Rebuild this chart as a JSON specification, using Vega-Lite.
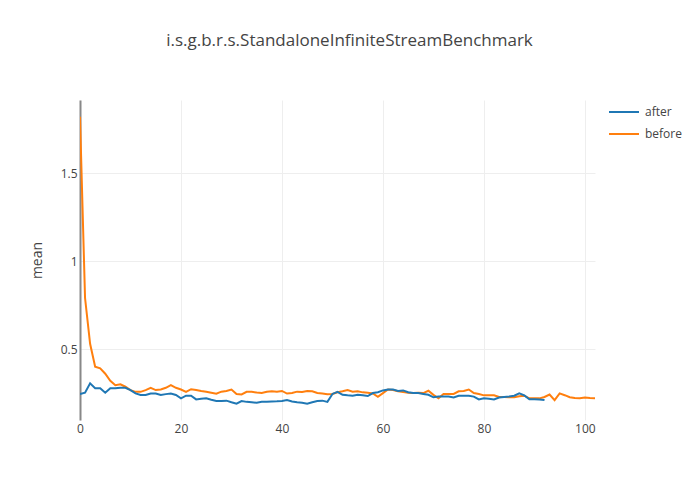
{
  "$schema": "https://vega.github.io/schema/vega-lite/v6.json",
  "width": 515,
  "height": 320,
  "autosize": {"type": "none"},
  "padding": {"left": 80, "top": 100, "right": 105, "bottom": 80},
  "background": "white",
  "title": {
    "text": "i.s.g.b.r.s.StandaloneInfiniteStreamBenchmark",
    "font": "Open Sans",
    "fontSize": 17,
    "fontWeight": "normal",
    "color": "#444",
    "anchor": "middle",
    "frame": "group",
    "dx": 12,
    "offset": 46
  },
  "config": {
    "view": {"stroke": null},
    "font": "Open Sans"
  },
  "data": {
    "values": [
      {"i":0,"s":"before","v":1.82},{"i":1,"s":"before","v":0.79},{"i":2,"s":"before","v":0.53},{"i":3,"s":"before","v":0.40},{"i":4,"s":"before","v":0.39},{"i":5,"s":"before","v":0.36},{"i":6,"s":"before","v":0.32},{"i":7,"s":"before","v":0.295},{"i":8,"s":"before","v":0.30},{"i":9,"s":"before","v":0.286},
      {"i":10,"s":"before","v":0.267},{"i":11,"s":"before","v":0.257},{"i":12,"s":"before","v":0.257},{"i":13,"s":"before","v":0.267},{"i":14,"s":"before","v":0.28},{"i":15,"s":"before","v":0.267},{"i":16,"s":"before","v":0.27},{"i":17,"s":"before","v":0.28},{"i":18,"s":"before","v":0.295},{"i":19,"s":"before","v":0.28},
      {"i":20,"s":"before","v":0.27},{"i":21,"s":"before","v":0.257},{"i":22,"s":"before","v":0.272},{"i":23,"s":"before","v":0.268},{"i":24,"s":"before","v":0.262},{"i":25,"s":"before","v":0.258},{"i":26,"s":"before","v":0.252},{"i":27,"s":"before","v":0.246},{"i":28,"s":"before","v":0.258},{"i":29,"s":"before","v":0.262},
      {"i":30,"s":"before","v":0.27},{"i":31,"s":"before","v":0.245},{"i":32,"s":"before","v":0.242},{"i":33,"s":"before","v":0.257},{"i":34,"s":"before","v":0.257},{"i":35,"s":"before","v":0.253},{"i":36,"s":"before","v":0.25},{"i":37,"s":"before","v":0.257},{"i":38,"s":"before","v":0.26},{"i":39,"s":"before","v":0.258},
      {"i":40,"s":"before","v":0.262},{"i":41,"s":"before","v":0.247},{"i":42,"s":"before","v":0.25},{"i":43,"s":"before","v":0.258},{"i":44,"s":"before","v":0.256},{"i":45,"s":"before","v":0.262},{"i":46,"s":"before","v":0.26},{"i":47,"s":"before","v":0.25},{"i":48,"s":"before","v":0.248},{"i":49,"s":"before","v":0.244},
      {"i":50,"s":"before","v":0.245},{"i":51,"s":"before","v":0.255},{"i":52,"s":"before","v":0.26},{"i":53,"s":"before","v":0.267},{"i":54,"s":"before","v":0.258},{"i":55,"s":"before","v":0.26},{"i":56,"s":"before","v":0.254},{"i":57,"s":"before","v":0.252},{"i":58,"s":"before","v":0.248},{"i":59,"s":"before","v":0.229},
      {"i":60,"s":"before","v":0.25},{"i":61,"s":"before","v":0.27},{"i":62,"s":"before","v":0.267},{"i":63,"s":"before","v":0.26},{"i":64,"s":"before","v":0.256},{"i":65,"s":"before","v":0.252},{"i":66,"s":"before","v":0.25},{"i":67,"s":"before","v":0.252},{"i":68,"s":"before","v":0.25},{"i":69,"s":"before","v":0.263},
      {"i":70,"s":"before","v":0.24},{"i":71,"s":"before","v":0.22},{"i":72,"s":"before","v":0.245},{"i":73,"s":"before","v":0.245},{"i":74,"s":"before","v":0.245},{"i":75,"s":"before","v":0.26},{"i":76,"s":"before","v":0.262},{"i":77,"s":"before","v":0.27},{"i":78,"s":"before","v":0.25},{"i":79,"s":"before","v":0.245},
      {"i":80,"s":"before","v":0.237},{"i":81,"s":"before","v":0.238},{"i":82,"s":"before","v":0.238},{"i":83,"s":"before","v":0.228},{"i":84,"s":"before","v":0.228},{"i":85,"s":"before","v":0.226},{"i":86,"s":"before","v":0.226},{"i":87,"s":"before","v":0.232},{"i":88,"s":"before","v":0.235},{"i":89,"s":"before","v":0.22},
      {"i":90,"s":"before","v":0.22},{"i":91,"s":"before","v":0.22},{"i":92,"s":"before","v":0.228},{"i":93,"s":"before","v":0.242},{"i":94,"s":"before","v":0.21},{"i":95,"s":"before","v":0.248},{"i":96,"s":"before","v":0.238},{"i":97,"s":"before","v":0.226},{"i":98,"s":"before","v":0.222},{"i":99,"s":"before","v":0.22},
      {"i":100,"s":"before","v":0.225},{"i":101,"s":"before","v":0.222},{"i":102,"s":"before","v":0.22},
      {"i":0,"s":"after","v":0.244},{"i":1,"s":"after","v":0.252},{"i":2,"s":"after","v":0.305},{"i":3,"s":"after","v":0.277},{"i":4,"s":"after","v":0.277},{"i":5,"s":"after","v":0.252},{"i":6,"s":"after","v":0.277},{"i":7,"s":"after","v":0.277},{"i":8,"s":"after","v":0.28},{"i":9,"s":"after","v":0.28},
      {"i":10,"s":"after","v":0.267},{"i":11,"s":"after","v":0.248},{"i":12,"s":"after","v":0.239},{"i":13,"s":"after","v":0.239},{"i":14,"s":"after","v":0.248},{"i":15,"s":"after","v":0.248},{"i":16,"s":"after","v":0.239},{"i":17,"s":"after","v":0.244},{"i":18,"s":"after","v":0.248},{"i":19,"s":"after","v":0.239},
      {"i":20,"s":"after","v":0.22},{"i":21,"s":"after","v":0.235},{"i":22,"s":"after","v":0.235},{"i":23,"s":"after","v":0.214},{"i":24,"s":"after","v":0.218},{"i":25,"s":"after","v":0.22},{"i":26,"s":"after","v":0.212},{"i":27,"s":"after","v":0.205},{"i":28,"s":"after","v":0.205},{"i":29,"s":"after","v":0.207},
      {"i":30,"s":"after","v":0.198},{"i":31,"s":"after","v":0.19},{"i":32,"s":"after","v":0.205},{"i":33,"s":"after","v":0.2},{"i":34,"s":"after","v":0.198},{"i":35,"s":"after","v":0.195},{"i":36,"s":"after","v":0.2},{"i":37,"s":"after","v":0.2},{"i":38,"s":"after","v":0.202},{"i":39,"s":"after","v":0.203},
      {"i":40,"s":"after","v":0.205},{"i":41,"s":"after","v":0.21},{"i":42,"s":"after","v":0.202},{"i":43,"s":"after","v":0.198},{"i":44,"s":"after","v":0.195},{"i":45,"s":"after","v":0.19},{"i":46,"s":"after","v":0.198},{"i":47,"s":"after","v":0.205},{"i":48,"s":"after","v":0.207},{"i":49,"s":"after","v":0.2},
      {"i":50,"s":"after","v":0.245},{"i":51,"s":"after","v":0.257},{"i":52,"s":"after","v":0.24},{"i":53,"s":"after","v":0.237},{"i":54,"s":"after","v":0.235},{"i":55,"s":"after","v":0.24},{"i":56,"s":"after","v":0.237},{"i":57,"s":"after","v":0.233},{"i":58,"s":"after","v":0.25},{"i":59,"s":"after","v":0.255},
      {"i":60,"s":"after","v":0.265},{"i":61,"s":"after","v":0.27},{"i":62,"s":"after","v":0.27},{"i":63,"s":"after","v":0.262},{"i":64,"s":"after","v":0.265},{"i":65,"s":"after","v":0.255},{"i":66,"s":"after","v":0.25},{"i":67,"s":"after","v":0.25},{"i":68,"s":"after","v":0.245},{"i":69,"s":"after","v":0.24},
      {"i":70,"s":"after","v":0.226},{"i":71,"s":"after","v":0.23},{"i":72,"s":"after","v":0.23},{"i":73,"s":"after","v":0.23},{"i":74,"s":"after","v":0.225},{"i":75,"s":"after","v":0.235},{"i":76,"s":"after","v":0.235},{"i":77,"s":"after","v":0.235},{"i":78,"s":"after","v":0.23},{"i":79,"s":"after","v":0.214},
      {"i":80,"s":"after","v":0.22},{"i":81,"s":"after","v":0.218},{"i":82,"s":"after","v":0.214},{"i":83,"s":"after","v":0.225},{"i":84,"s":"after","v":0.228},{"i":85,"s":"after","v":0.23},{"i":86,"s":"after","v":0.235},{"i":87,"s":"after","v":0.248},{"i":88,"s":"after","v":0.237},{"i":89,"s":"after","v":0.215},
      {"i":90,"s":"after","v":0.215},{"i":91,"s":"after","v":0.214},{"i":92,"s":"after","v":0.21}
    ]
  },
  "mark": {"type": "line", "strokeWidth": 2, "clip": true},
  "encoding": {
    "x": {
      "field": "i",
      "type": "quantitative",
      "scale": {"domain": [0, 102], "nice": false, "zero": false},
      "axis": {
        "title": null,
        "values": [0, 20, 40, 60, 80, 100],
        "grid": true,
        "gridColor": "#eeeeee",
        "gridWidth": 1,
        "domain": false,
        "ticks": false,
        "labelFont": "Open Sans",
        "labelFontSize": 12,
        "labelColor": "#444",
        "labelPadding": 3,
        "labelFlush": false
      }
    },
    "y": {
      "field": "v",
      "type": "quantitative",
      "scale": {"domain": [0.097, 1.915], "nice": false, "zero": false},
      "axis": {
        "title": "mean",
        "titleFont": "Open Sans",
        "titleFontSize": 14,
        "titleFontWeight": "normal",
        "titleColor": "#444",
        "titlePadding": 16,
        "values": [0.5, 1, 1.5],
        "format": "~g",
        "grid": true,
        "gridColor": "#eeeeee",
        "gridWidth": 1,
        "domain": true,
        "domainColor": "#888",
        "domainWidth": 2,
        "ticks": false,
        "labelFont": "Open Sans",
        "labelFontSize": 12,
        "labelColor": "#444",
        "labelPadding": 3
      }
    },
    "color": {
      "field": "s",
      "type": "nominal",
      "scale": {"domain": ["after", "before"], "range": ["#1f77b4", "#ff7f0e"]},
      "legend": {
        "title": null,
        "orient": "none",
        "legendX": 528,
        "legendY": -4,
        "symbolType": "stroke",
        "symbolSize": 900,
        "symbolStrokeWidth": 2,
        "labelFont": "Open Sans",
        "labelFontSize": 12,
        "labelColor": "#444",
        "labelOffset": 5,
        "rowPadding": -11
      }
    }
  }
}
